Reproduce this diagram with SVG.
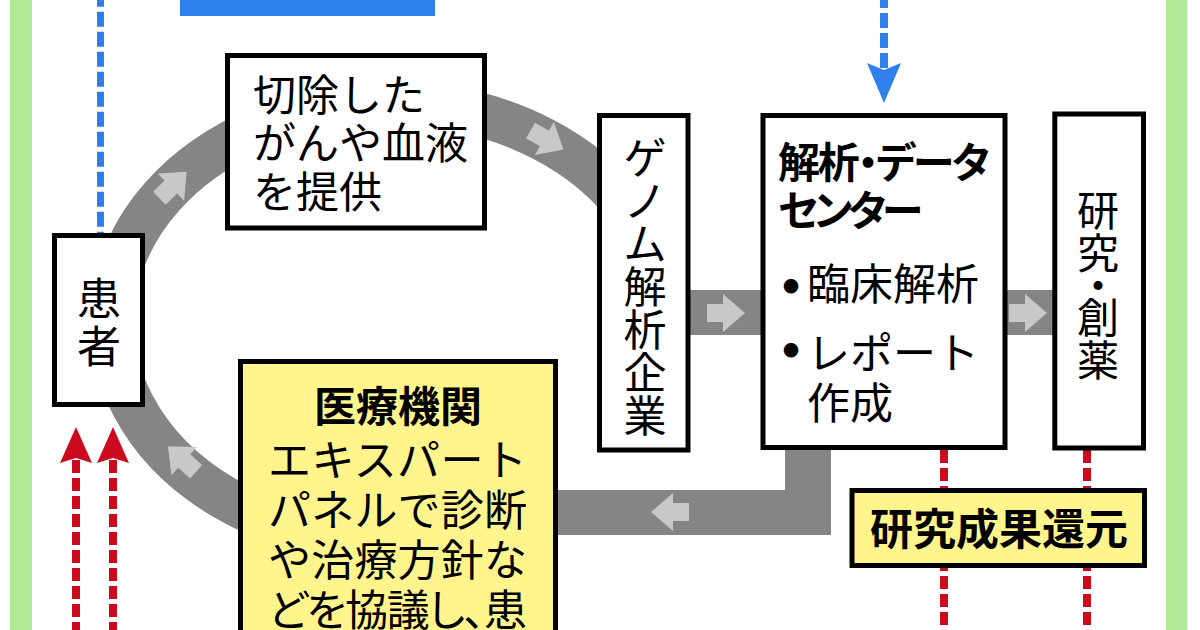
<svg xmlns="http://www.w3.org/2000/svg" width="1200" height="630" viewBox="0 0 1200 630">
<style>
.box{fill:#fff;stroke:#000;stroke-width:5}
.ybox{fill:#fff58c;stroke:#000;stroke-width:5}
.t{font-family:"Noto Sans CJK JP","Noto Sans CJK SC",sans-serif;font-size:43px;fill:#000}
.b{font-weight:700}
.f42{font-size:42px}
.f44{font-size:44px}
.dot{font-size:16px}
.band{fill:none;stroke:#858585;stroke-width:44}
.bandr{fill:#858585}
.la{fill:#c8c8c8}
.blue{fill:none;stroke:#2f80ed;stroke-dasharray:15 5}
.red{fill:none;stroke:#cc0a1e;stroke-width:8;stroke-dasharray:13 5}
</style>
<defs>
<polygon id="arr" points="-19,-9 -3,-9 -3,-19 19,0 -3,19 -3,9 -19,9"/>
</defs>
<rect width="1200" height="630" fill="#fff"/>
<rect x="10" y="0" width="22" height="630" fill="#b0e896"/>
<rect x="1166" y="0" width="21" height="630" fill="#b0e896"/>
<rect x="180" y="0" width="255" height="16" fill="#2f80ed"/>

<g id="connectors">
<path class="band" d="M630.8,212.5 A278,219 0 1 0 341.7,537.7"/>
<rect class="bandr" x="500" y="490" width="331" height="45"/>
<rect class="bandr" x="785" y="440" width="46" height="95"/>
<rect class="bandr" x="688" y="290" width="78" height="45"/>
<rect class="bandr" x="1005" y="290" width="50" height="45"/>
<use href="#arr" class="la" transform="translate(173,185) rotate(-44)"/>
<use href="#arr" class="la" transform="translate(547,140) rotate(30)"/>
<use href="#arr" class="la" transform="translate(726,313)"/>
<use href="#arr" class="la" transform="translate(1028,313)"/>
<use href="#arr" class="la" transform="translate(670,512) rotate(180)"/>
<use href="#arr" class="la" transform="translate(182,459) rotate(-138)"/>
<path class="blue" stroke-width="7" d="M100.5,246.7 V0"/>
<path class="blue" stroke-width="8" d="M884,68 V0"/>
<polygon points="867,63 884,70 901,63 884,103" fill="#2f80ed"/>
<path class="red" d="M944,450 V630"/>
<path class="red" d="M1087,450 V630"/>
<path class="red" d="M76,460 V630"/>
<path class="red" d="M113,460 V630"/>
<polygon points="76,427 92,463 76,458 60,463" fill="#cc0a1e"/>
<polygon points="113,427 129,463 113,458 97,463" fill="#cc0a1e"/>
</g>

<g id="patient">
<rect class="box" x="54.5" y="235.5" width="88" height="169"/>
<text class="t f44" text-anchor="middle"><tspan x="99" y="315">患</tspan><tspan x="99" y="363">者</tspan></text>
</g>

<g id="sample">
<rect class="box" x="227.5" y="55.5" width="257" height="172.5"/>
<text class="t"><tspan x="253" y="111">切除した</tspan><tspan x="253" y="159">がんや血液</tspan><tspan x="253" y="208">を提供</tspan></text>
</g>

<g id="genome">
<rect class="box" x="599.5" y="115.5" width="88.5" height="334.5"/>
<text class="t" text-anchor="middle"><tspan x="645" y="174">ゲ</tspan><tspan x="645" y="217">ノ</tspan><tspan x="645" y="260">ム</tspan><tspan x="645" y="303">解</tspan><tspan x="645" y="346">析</tspan><tspan x="645" y="389">企</tspan><tspan x="645" y="432">業</tspan></text>
</g>

<g id="center">
<rect class="box" x="763" y="115.5" width="242" height="332"/>
<text class="t b f42" style="font-feature-settings:'palt'" x="778" y="178" textLength="212" lengthAdjust="spacing">解析・データ</text>
<text class="t b f42" style="font-feature-settings:'palt'" x="778" y="226" textLength="145" lengthAdjust="spacing">センター</text>
<text class="t dot" text-anchor="middle" x="791" y="292">●</text>
<text class="t" x="807" y="300">臨床解析</text>
<text class="t dot" text-anchor="middle" x="791" y="356">●</text>
<text class="t"><tspan x="807" y="369">レポート</tspan><tspan x="807" y="419">作成</tspan></text>
</g>

<g id="research">
<rect class="box" x="1054.8" y="114" width="88.7" height="334"/>
<text class="t f42" text-anchor="middle"><tspan x="1098" y="226">研</tspan><tspan x="1098" y="269">究</tspan><tspan x="1098" y="301">・</tspan><tspan x="1098" y="333">創</tspan><tspan x="1098" y="376">薬</tspan></text>
</g>

<g id="hospital">
<rect class="ybox" x="240.5" y="361.5" width="315" height="300"/>
<text class="t b f42" text-anchor="middle" x="398" y="422">医療機関</text>
<text class="t" x="268" y="476" textLength="259" lengthAdjust="spacing">エキスパート</text>
<text class="t" x="268" y="526" textLength="259" lengthAdjust="spacing">パネルで診断</text>
<text class="t" x="268" y="576" textLength="259" lengthAdjust="spacing">や治療方針な</text>
<text class="t" x="268" y="626" textLength="259" lengthAdjust="spacing" style="font-feature-settings:'palt'">どを協議し、患</text>
</g>

<g id="return">
<rect class="ybox" x="852" y="490.5" width="292.5" height="75"/>
<text class="t b" text-anchor="middle" x="999" y="545">研究成果還元</text>
</g>
</svg>
